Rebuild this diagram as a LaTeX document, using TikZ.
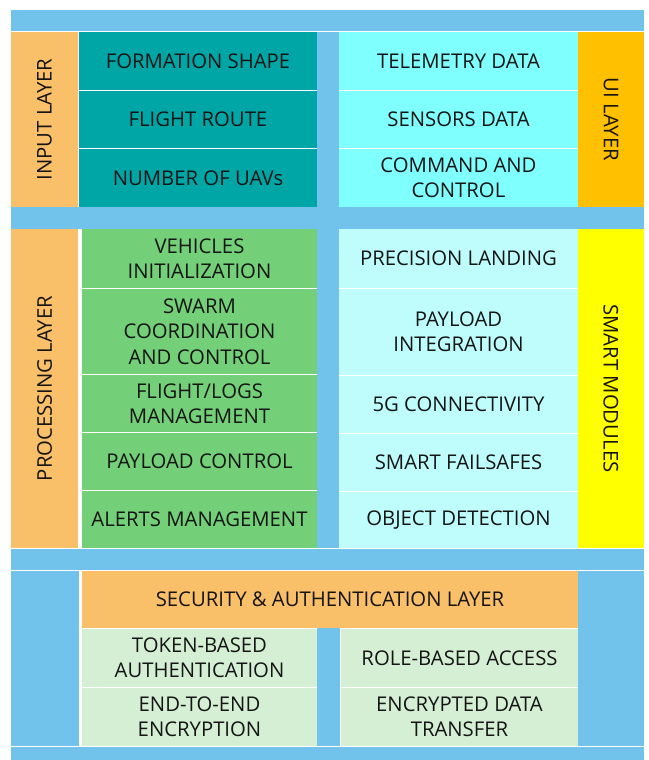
\documentclass[tikz,border=0pt]{standalone}
\usepackage{fontspec}
\setmainfont{Open Sans}
\definecolor{barblue}{HTML}{72C3EC}
\definecolor{inputteal}{HTML}{00A6A6}
\definecolor{layerorange}{HTML}{F9BF69}
\definecolor{uicyan}{HTML}{80FFFF}
\definecolor{uiorange}{HTML}{FFC000}
\definecolor{procgreen}{HTML}{74D078}
\definecolor{smartcyan}{HTML}{BFFDFD}
\definecolor{smartyellow}{HTML}{FFFF00}
\definecolor{secgreen}{HTML}{D4EFD4}
\definecolor{inktext}{HTML}{151515}
\tikzset{
  cellbase/.style={rectangle, inner sep=0pt, outer sep=0pt, draw=none,
    align=center, text=inktext, font=\fontsize{20.3}{25.3}\selectfont},
  spacer/.style={cellbase, fill=barblue},
  inputcell/.style={cellbase, fill=inputteal},
  uicell/.style={cellbase, fill=uicyan},
  proccell/.style={cellbase, fill=procgreen},
  smartcell/.style={cellbase, fill=smartcyan},
  seccell/.style={cellbase, fill=secgreen},
  leftlayer/.style={cellbase, fill=layerorange},
  uilayer/.style={cellbase, fill=uiorange},
  smartlayer/.style={cellbase, fill=smartyellow},
  seclayer/.style={cellbase, fill=layerorange},
}
% \cellbox{name}{x1}{y1}{x2}{y2}{style}{text}: a block covering pixel columns x1..x2, rows y1..y2
\newcommand\cellbox[7]{%
  \node[#6, minimum width={#4-#2+1}, minimum height={#5-#3+1}]
    (#1) at ({(#2+#4+1)/2},{(#3+#5+1)/2}) {#7};}
\begin{document}
\begin{tikzpicture}[x=1pt,y=-1pt]
\useasboundingbox (0,0) rectangle (648,760);
\fill[white] (0,0) rectangle (648,760);

% frame bars
\cellbox{topbar}{11}{10}{643}{30}{spacer}{}
\cellbox{midcol}{317}{32}{338}{547}{spacer}{}
\cellbox{gapleft}{11}{207}{316}{228}{spacer}{}
\cellbox{gapright}{339}{207}{643}{228}{spacer}{}
\cellbox{lowbar}{11}{549}{643}{569}{spacer}{}
\cellbox{secleft}{11}{571}{78}{745}{spacer}{}
\cellbox{secmid}{317}{628}{339}{745}{spacer}{}
\cellbox{secright}{578}{571}{643}{745}{spacer}{}
\cellbox{bottombar}{11}{747}{643}{759}{spacer}{}

% input layer
\cellbox{inputlayer}{11}{32}{77}{206}{leftlayer}{}
\node[cellbase, rotate=90] (inputlabel) at (inputlayer.center) {INPUT LAYER};
\cellbox{formation}{79}{32}{316}{89}{inputcell}{FORMATION SHAPE}
\cellbox{route}{79}{91}{316}{147}{inputcell}{FLIGHT ROUTE}
\cellbox{numuav}{79}{149}{316}{206}{inputcell}{NUMBER OF UAVs}

% UI layer
\cellbox{telemetry}{339}{32}{577}{89}{uicell}{TELEMETRY DATA}
\cellbox{sensors}{339}{91}{577}{147}{uicell}{SENSORS DATA}
\cellbox{command}{339}{149}{577}{206}{uicell}{COMMAND AND\\CONTROL}
\cellbox{uilayer}{578}{32}{643}{206}{uilayer}{}
\node[cellbase, rotate=-90] (uilabel) at (uilayer.center) {UI LAYER};

% processing layer
\cellbox{proclayer}{11}{229}{77}{547}{leftlayer}{}
\node[cellbase, rotate=90] (proclabel) at (proclayer.center) {PROCESSING LAYER};
\cellbox{vehicles}{82}{229}{316}{287}{proccell}{VEHICLES\\INITIALIZATION}
\cellbox{swarm}{82}{289}{316}{373}{proccell}{SWARM\\COORDINATION\\AND CONTROL}
\cellbox{logs}{82}{375}{316}{431}{proccell}{FLIGHT/LOGS\\MANAGEMENT}
\cellbox{payloadctl}{82}{433}{316}{489}{proccell}{PAYLOAD CONTROL}
\cellbox{alerts}{82}{491}{316}{547}{proccell}{ALERTS MANAGEMENT}

% smart modules
\cellbox{landing}{339}{229}{577}{287}{smartcell}{PRECISION LANDING}
\cellbox{payloadint}{339}{289}{577}{374}{smartcell}{PAYLOAD\\INTEGRATION}
\cellbox{fiveg}{339}{376}{577}{432}{smartcell}{5G CONNECTIVITY}
\cellbox{failsafes}{339}{434}{577}{490}{smartcell}{SMART FAILSAFES}
\cellbox{objdet}{339}{492}{577}{547}{smartcell}{OBJECT DETECTION}
\cellbox{smartlayer}{578}{229}{643}{547}{smartlayer}{}
\node[cellbase, rotate=-90] (smartlabel) at (smartlayer.center) {SMART MODULES};

% security & authentication layer
\cellbox{seclayer}{82}{571}{577}{627}{seclayer}{SECURITY \& AUTHENTICATION LAYER}
\cellbox{token}{82}{629}{316}{686}{seccell}{TOKEN-BASED\\AUTHENTICATION}
\cellbox{e2e}{82}{688}{316}{745}{seccell}{END-TO-END\\ENCRYPTION}
\cellbox{role}{341}{629}{577}{686}{seccell}{ROLE-BASED ACCESS}
\cellbox{transfer}{341}{688}{577}{745}{seccell}{ENCRYPTED DATA\\TRANSFER}
\end{tikzpicture}
\end{document}
